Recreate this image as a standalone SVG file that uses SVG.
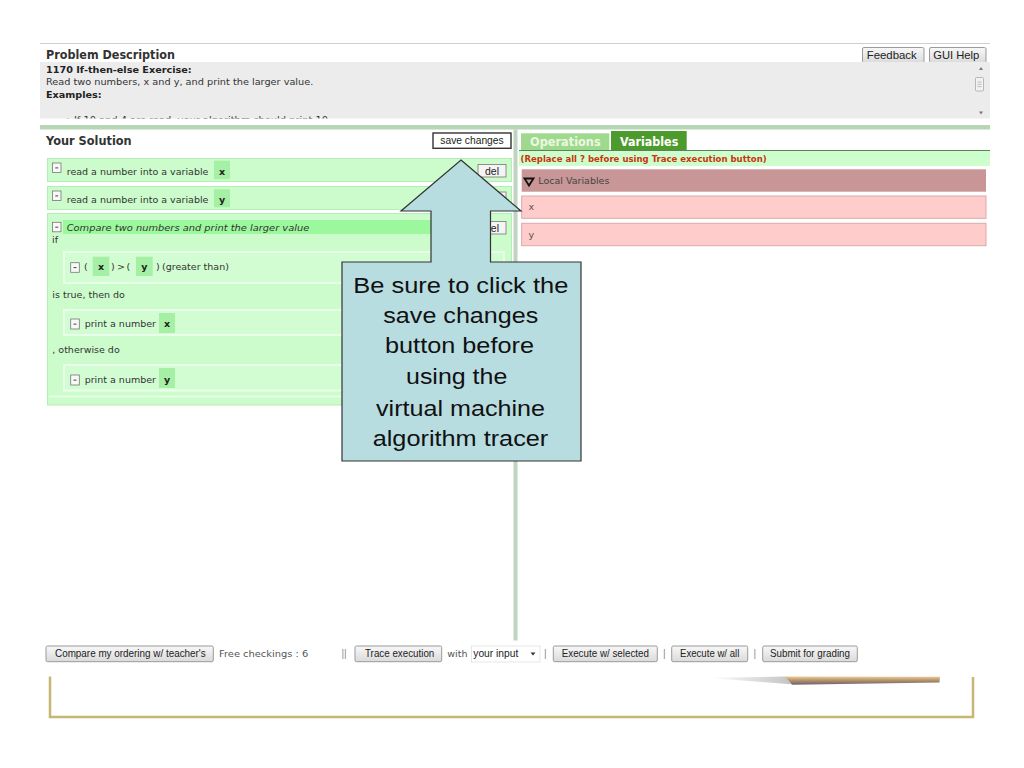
<svg xmlns="http://www.w3.org/2000/svg" width="1024" height="768" viewBox="0 0 1024 768">
<defs>
<linearGradient id="btnGrad" x1="0" y1="0" x2="0" y2="1"><stop offset="0" stop-color="#f8f8f8"/><stop offset="1" stop-color="#dadada"/></linearGradient>
<linearGradient id="pencilBody" x1="0" y1="0" x2="0" y2="1"><stop offset="0" stop-color="#ecd09a"/><stop offset="0.45" stop-color="#b8946c"/><stop offset="1" stop-color="#6a6070"/></linearGradient>
<linearGradient id="pencilTip" x1="0" y1="0" x2="1" y2="0"><stop offset="0" stop-color="#ffffff"/><stop offset="1" stop-color="#c4c4c4"/></linearGradient>
<clipPath id="descClip"><rect x="40" y="62" width="950" height="56.5"/></clipPath>
</defs>
<style>
.t { font-family: "DejaVu Sans", Verdana, sans-serif; font-size: 9.5px; fill: #333; }
.b { font-weight: bold; fill: #222; }
.i { font-style: italic; }
.m { text-anchor: middle; }
.h { font-family: "DejaVu Sans", Verdana, sans-serif; font-weight: bold; font-size: 13px; fill: #333; }
.tab { font-family: "DejaVu Sans", Verdana, sans-serif; font-weight: bold; font-size: 12.5px; }
.bt { font-family: "Liberation Sans", Arial, sans-serif; font-size: 10.5px; fill: #222; }
.btn { fill: url(#btnGrad); stroke: #9a9a9a; stroke-width: 1; }
.row { fill: #ccfccc; stroke: #b4eeb4; stroke-width: 1; }
.inner { fill: #d2fdd2; stroke: #eaffea; stroke-width: 2; }
.var { fill: #a6f0a6; }
.mini { fill: #f8f8f8; stroke: #777; stroke-width: 0.8; }
.dash { stroke: #444; stroke-width: 1; }
.del { fill: #f4f4f4; stroke: #777; stroke-width: 0.8; }
.pvar { fill: #ffcccc; stroke: #d9a9a9; stroke-width: 1; }
.sep { fill: #8a8a8a; font-family: "Liberation Sans", Arial, sans-serif; font-size: 10px; }
.ct { font-family: "Liberation Sans", Arial, sans-serif; font-size: 21.5px; fill: #111; }
</style>
<rect width="1024" height="768" fill="#ffffff"/>

<g id="problem-description">
  <line x1="40" y1="43.5" x2="990" y2="43.5" stroke="#cfcfcf" stroke-width="1.2"/>
  <text class="h" x="46" y="59" textLength="129" lengthAdjust="spacingAndGlyphs">Problem Description</text>
  <rect class="btn" x="862.5" y="47.5" width="61.5" height="15.5" rx="1.5"/>
  <text class="bt" x="866.7" y="58.5" textLength="50" lengthAdjust="spacingAndGlyphs">Feedback</text>
  <rect class="btn" x="929.5" y="47.5" width="56.5" height="15.5" rx="1.5"/>
  <text class="bt" x="933.3" y="58.5" textLength="46" lengthAdjust="spacingAndGlyphs">GUI Help</text>
  <rect x="40" y="62" width="950" height="56.5" fill="#ececec"/>
  <text class="t b" x="46" y="73.3" textLength="145.7" lengthAdjust="spacingAndGlyphs">1170 If-then-else Exercise:</text>
  <text class="t" x="46" y="85" textLength="267.3" lengthAdjust="spacingAndGlyphs">Read two numbers, x and y, and print the larger value.</text>
  <text class="t b" x="46" y="98.3" textLength="55.7" lengthAdjust="spacingAndGlyphs">Examples:</text>
  <g clip-path="url(#descClip)">
    <text class="t" x="65" y="122.5" textLength="263" lengthAdjust="spacingAndGlyphs">• If 10 and 4 are read, your algorithm should print 10</text>
  </g>
  <polygon points="979,70 983,70 981,67" fill="#777"/>
  <rect x="975.5" y="77.5" width="8" height="13.5" fill="#f2f2f2" stroke="#aaa" stroke-width="0.8" rx="1"/>
  <line x1="977.5" y1="82" x2="981.5" y2="82" stroke="#999" stroke-width="0.6"/>
  <line x1="977.5" y1="84.3" x2="981.5" y2="84.3" stroke="#999" stroke-width="0.6"/>
  <line x1="977.5" y1="86.6" x2="981.5" y2="86.6" stroke="#999" stroke-width="0.6"/>
  <polygon points="979,111.5 983,111.5 981,114.5" fill="#777"/>
  <rect x="40" y="125" width="950" height="4.5" fill="#b6d6b6"/>
</g>

<g id="panel-separator">
  <rect x="513.5" y="129.5" width="4" height="511" fill="#bfd4bf"/>
</g>

<g id="your-solution">
  <text class="h" x="46" y="145" textLength="85.7" lengthAdjust="spacingAndGlyphs">Your Solution</text>
  <rect x="433" y="133" width="78" height="15.3" fill="#ffffff" stroke="#333" stroke-width="1.4"/>
  <text class="bt m" x="472" y="144.2" textLength="63.3" lengthAdjust="spacingAndGlyphs">save changes</text>
</g>

<g id="row-read-x">
  <rect class="row" x="47.5" y="158.5" width="464" height="23"/>
  <rect class="mini" x="52.5" y="163" width="8.5" height="9.5"/>
  <line class="dash" x1="55.3" y1="167.9" x2="58.2" y2="167.9"/>
  <text class="t" x="66.7" y="174.5">read a number into a variable</text>
  <rect class="var" x="214" y="160.7" width="16" height="18.6"/>
  <text class="t b m" x="222" y="174.5">x</text>
  <rect class="del" x="478" y="164.5" width="28" height="12.5"/>
  <text class="bt m" x="492" y="174.5">del</text>
</g>

<g id="row-read-y">
  <rect class="row" x="47.5" y="186.5" width="464" height="23"/>
  <rect class="mini" x="52.5" y="191" width="8.5" height="9.5"/>
  <line class="dash" x1="55.3" y1="195.9" x2="58.2" y2="195.9"/>
  <text class="t" x="66.7" y="202.8">read a number into a variable</text>
  <rect class="var" x="214" y="189.3" width="16" height="18"/>
  <text class="t b m" x="222" y="202.8">y</text>
  <rect class="del" x="478" y="192" width="28" height="12.5"/>
</g>

<g id="row-compare">
  <rect class="row" x="47.5" y="213.5" width="464" height="191.5"/>
  <rect x="63" y="220" width="412" height="14" fill="#9cf89c"/>
  <rect class="mini" x="52.5" y="222.3" width="8.5" height="9.5"/>
  <line class="dash" x1="55.3" y1="227.2" x2="58.2" y2="227.2"/>
  <text class="t i" x="66.7" y="230.5" textLength="242.6" lengthAdjust="spacingAndGlyphs">Compare two numbers and print the larger value</text>
  <rect class="del" x="478" y="221.5" width="28" height="12.5"/>
  <text class="bt m" x="492" y="231.5">del</text>
  <text class="t" x="52" y="243.3">if</text>

  <g id="cond-greater-than">
    <rect class="inner" x="64" y="252" width="440" height="31"/>
    <rect class="mini" x="70.7" y="262.7" width="8.6" height="9.6"/>
    <line class="dash" x1="73.5" y1="267.6" x2="76.5" y2="267.6"/>
    <text class="t" x="84" y="270">(</text>
    <rect class="var" x="92.7" y="256.7" width="16.6" height="19.3"/>
    <text class="t b m" x="101" y="270">x</text>
    <text class="t" x="111" y="270">)</text>
    <text class="t" x="117" y="270">&gt;</text>
    <text class="t" x="126.5" y="270">(</text>
    <rect class="var" x="136" y="256.7" width="16.7" height="19.3"/>
    <text class="t b m" x="144.3" y="270">y</text>
    <text class="t" x="156" y="270">)</text>
    <text class="t" x="162" y="270">(greater than)</text>
  </g>

  <text class="t" x="52.3" y="298">is true, then do</text>

  <g id="print-x">
    <rect class="inner" x="64" y="310" width="440" height="25"/>
    <rect class="mini" x="70.7" y="319" width="8.6" height="10"/>
    <line class="dash" x1="73.5" y1="324.1" x2="76.5" y2="324.1"/>
    <text class="t" x="84.7" y="327.3">print a number</text>
    <rect class="var" x="159" y="313" width="16" height="20"/>
    <text class="t b m" x="167" y="327.3">x</text>
  </g>

  <text class="t" x="52.3" y="353.3">, otherwise do</text>

  <g id="print-y">
    <rect class="inner" x="64" y="365" width="440" height="25.5"/>
    <rect class="mini" x="70.7" y="375" width="8.6" height="10"/>
    <line class="dash" x1="73.5" y1="380.1" x2="76.5" y2="380.1"/>
    <text class="t" x="84.7" y="383.3">print a number</text>
    <rect class="var" x="159" y="368" width="16" height="20"/>
    <text class="t b m" x="167" y="383.3">y</text>
  </g>
  <line x1="49" y1="396.5" x2="510" y2="396.5" stroke="#e4ffe4" stroke-width="2"/>
</g>

<g id="tabs">
  <rect x="521" y="133.3" width="88.3" height="17" fill="#9fd98d"/>
  <text class="tab" x="530" y="146" textLength="70.7" lengthAdjust="spacingAndGlyphs" fill="#eaf8e2">Operations</text>
  <rect x="611" y="131" width="75.7" height="19.3" fill="#4d9b2d"/>
  <text class="tab" x="620" y="146" textLength="58.3" lengthAdjust="spacingAndGlyphs" fill="#ffffff">Variables</text>
  <line x1="519" y1="150.5" x2="990" y2="150.5" stroke="#5f7f5f" stroke-width="1"/>
  <rect x="519" y="151" width="471" height="15" fill="#ccffcc"/>
  <text class="t b" x="520.5" y="162.3" textLength="246.2" lengthAdjust="spacingAndGlyphs" style="fill:#cc3311">(Replace all ? before using Trace execution button)</text>
</g>

<g id="local-variables">
  <rect x="521.7" y="169.3" width="464.3" height="22.4" fill="#c89696"/>
  <polygon points="524.5,178.5 533.5,178.5 529,185.5" fill="none" stroke="#111" stroke-width="1.8" stroke-linejoin="miter"/>
  <text class="t" x="538.3" y="184.3" style="fill:#444">Local Variables</text>
</g>

<g id="var-x">
  <rect class="pvar" x="521.7" y="196" width="464.3" height="22.3"/>
  <text class="t" x="528.5" y="210.3" style="fill:#555">x</text>
</g>

<g id="var-y">
  <rect class="pvar" x="521.7" y="223.3" width="464.3" height="22.4"/>
  <text class="t" x="528.5" y="237.5" style="fill:#555">y</text>
</g>

<g id="bottom-bar">
  <rect class="btn" x="46" y="646" width="167.3" height="15.7" rx="1.5"/>
  <text class="bt" x="55" y="657.3" textLength="150.7" lengthAdjust="spacingAndGlyphs">Compare my ordering w/ teacher's</text>
  <text class="t" x="219" y="657.3" textLength="89.3" lengthAdjust="spacingAndGlyphs" style="fill:#555">Free checkings : 6</text>
  <text class="sep" x="341.5" y="657.3">||</text>
  <rect class="btn" x="355" y="646" width="86.7" height="15.7" rx="1.5"/>
  <text class="bt" x="365" y="657.3" textLength="69.3" lengthAdjust="spacingAndGlyphs">Trace execution</text>
  <text class="t" x="447.3" y="657.3" style="fill:#555">with</text>
  <rect x="471.5" y="646" width="68.5" height="16" fill="#ffffff" stroke="#e0e0e0" stroke-width="0.8"/>
  <text class="bt" x="473.3" y="657.3" textLength="45" lengthAdjust="spacingAndGlyphs">your input</text>
  <polygon points="530.5,652.5 535.5,652.5 533,655.5" fill="#333"/>
  <text class="sep" x="544" y="657.3">|</text>
  <rect class="btn" x="553.3" y="646" width="104" height="15.7" rx="1.5"/>
  <text class="bt" x="561.7" y="657.3" textLength="87.3" lengthAdjust="spacingAndGlyphs">Execute w/ selected</text>
  <text class="sep" x="663" y="657.3">|</text>
  <rect class="btn" x="671.7" y="646" width="76" height="15.7" rx="1.5"/>
  <text class="bt" x="680" y="657.3" textLength="59.3" lengthAdjust="spacingAndGlyphs">Execute w/ all</text>
  <text class="sep" x="753.5" y="657.3">|</text>
  <rect class="btn" x="762.7" y="646" width="94.6" height="15.7" rx="1.5"/>
  <text class="bt" x="770" y="657.3" textLength="80" lengthAdjust="spacingAndGlyphs">Submit for grading</text>
</g>

<g id="frame">
  <polyline points="50,676.5 50,717 973,717 973,677" fill="none" stroke="#c8b673" stroke-width="2.5"/>
  <polygon points="708,677.8 786,676.6 791,684.3" fill="url(#pencilTip)"/>
  <polygon points="785,676.4 940,676.8 939.5,682.5 792,684.8" fill="url(#pencilBody)"/>
</g>

<g id="callout">
  <path d="M 461 160 L 521 211 L 490.5 211 L 490.5 262 L 581 262 L 581 461 L 342 461 L 342 262 L 431 262 L 431 211 L 401 211 Z" fill="#b8dde1" stroke="#333" stroke-width="1.2"/>
  <text class="ct" x="353.3" y="292.5" textLength="215" lengthAdjust="spacingAndGlyphs">Be sure to click the</text>
  <text class="ct" x="383.3" y="323" textLength="155" lengthAdjust="spacingAndGlyphs">save changes</text>
  <text class="ct" x="385" y="353.3" textLength="149" lengthAdjust="spacingAndGlyphs">button before</text>
  <text class="ct" x="406" y="384.2" textLength="101.3" lengthAdjust="spacingAndGlyphs">using the</text>
  <text class="ct" x="376" y="415.7" textLength="169" lengthAdjust="spacingAndGlyphs">virtual machine</text>
  <text class="ct" x="372.7" y="446" textLength="175.6" lengthAdjust="spacingAndGlyphs">algorithm tracer</text>
</g>
</svg>
